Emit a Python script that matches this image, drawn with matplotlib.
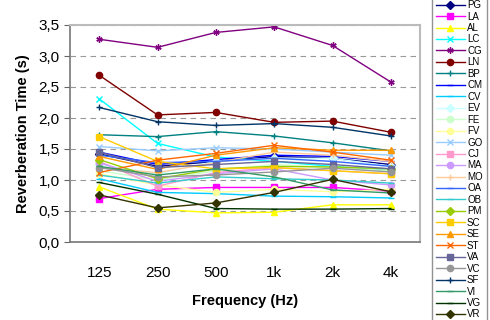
import matplotlib
matplotlib.use("Agg")
import matplotlib.pyplot as plt

plt.rcParams['font.family'] = ['Liberation Sans', 'DejaVu Sans']

freqs = ['125', '250', '500', '1k', '2k', '4k']

names = ['PG', 'LA', 'AL', 'LC', 'CG', 'LN', 'BP', 'CM', 'CV', 'EV', 'FE', 'FV', 'GO', 'CJ',
         'MA', 'MO', 'OA', 'OB', 'PM', 'SC', 'SE', 'ST', 'VA', 'VC', 'SF', 'VI', 'VG', 'VR']

PG = [1.42, 1.22, 1.30, 1.38, 1.35, 1.25]
LA = [0.70, 0.85, 0.88, 0.88, 0.88, 0.82]
AL = [0.89, 0.53, 0.47, 0.48, 0.60, 0.60]
LC = [2.31, 1.59, 1.37, 1.30, 1.22, 1.15]
CG = [3.27, 3.14, 3.38, 3.47, 3.17, 2.58]
LN = [2.69, 2.05, 2.09, 1.93, 1.95, 1.77]
BP = [1.73, 1.70, 1.78, 1.71, 1.60, 1.47]
CM = [1.45, 1.25, 1.33, 1.40, 1.38, 1.30]
CV = [1.02, 0.80, 0.78, 0.74, 0.73, 0.71]
EV = [1.25, 1.10, 1.30, 1.35, 1.35, 1.22]
FE = [1.15, 1.00, 1.15, 1.25, 1.20, 1.15]
FV = [1.10, 0.92, 0.80, 0.85, 0.81, 0.85]
GO = [1.54, 1.47, 1.52, 1.50, 1.45, 1.40]
CJ = [1.30, 0.90, 1.12, 1.20, 1.15, 1.10]
MA = [1.28, 0.98, 1.10, 1.18, 1.00, 0.92]
MO = [1.20, 1.12, 1.28, 1.45, 1.40, 1.30]
OA = [1.40, 1.28, 1.30, 1.35, 1.30, 1.22]
OB = [1.08, 0.95, 1.05, 1.02, 1.00, 0.95]
PM = [1.33, 1.02, 1.18, 1.22, 1.21, 1.18]
SC = [1.70, 1.30, 1.18, 1.20, 1.15, 1.10]
SE = [1.38, 1.17, 1.40, 1.52, 1.48, 1.48]
ST = [1.12, 1.32, 1.43, 1.56, 1.45, 1.32]
VA = [1.45, 1.20, 1.25, 1.30, 1.25, 1.18]
VC = [1.20, 1.05, 1.08, 1.13, 1.19, 1.13]
SF = [2.17, 1.94, 1.88, 1.91, 1.85, 1.71]
VI = [1.22, 1.08, 1.18, 1.05, 0.84, 0.79]
VG = [0.96, 0.77, 0.54, 0.53, 0.53, 0.54]
VR = [0.76, 0.55, 0.63, 0.80, 1.01, 0.81]

series = [PG, LA, AL, LC, CG, LN, BP, CM, CV, EV, FE, FV, GO, CJ,
          MA, MO, OA, OB, PM, SC, SE, ST, VA, VC, SF, VI, VG, VR]

colors = ['#000080', '#FF00FF', '#FFFF00', '#00FFFF', '#800080', '#800000', '#008080',
          '#0000FF', '#00CCFF', '#CCFFFF', '#CCFFCC', '#FFFF99', '#99CCFF', '#FF99CC',
          '#CC99FF', '#FFCC99', '#3366FF', '#33CCCC', '#99CC00', '#FFCC00', '#FF9900',
          '#FF6600', '#666699', '#969696', '#003366', '#339966', '#003300', '#333300']
markers = ['D', 's', '^', 'x', (6, 2, 0), 'o', '+', '_', '_', 'D', 'o', 'o', 'x', 's',
           'o', '+', '_', '_', 'D', 's', '^', 'x', 's', 'o', '+', '_', '_', 'D']

fig = plt.figure(figsize=(4.9, 3.2), dpi=100)
ax = fig.add_axes([70 / 490, 78 / 320, 350 / 490, 217 / 320])

x = range(len(freqs))
for name, vals, c, m in zip(names, series, colors, markers):
    ax.plot(x, vals, color=c, marker=m, markersize=4.5, linewidth=1.0,
            markeredgewidth=1.0, label=name)

ax.set_xlim(-0.5, 5.5)
ax.set_ylim(0, 3.5)
ax.set_xticks(list(x))
ax.set_xticklabels(freqs)
ax.set_yticks([0, 0.5, 1.0, 1.5, 2.0, 2.5, 3.0, 3.5])
ax.set_yticklabels(['0,0', '0,5', '1,0', '1,5', '2,0', '2,5', '3,0', '3,5'])
ax.tick_params(axis='x', length=0, pad=17, labelsize=11)
ax.tick_params(axis='y', length=4, direction='out', color='#666666', labelsize=11)
ax.yaxis.grid(True, linestyle=(0, (5, 4)), color='#999999', linewidth=0.8)
ax.set_axisbelow(True)
for s in ['top', 'right']:
    ax.spines[s].set_color('#BBBBBB')
    ax.spines[s].set_linewidth(1.5)
for s in ['left', 'bottom']:
    ax.spines[s].set_color('#777777')
    ax.spines[s].set_linewidth(1.2)

ax.set_xlabel('Frequency (Hz)', fontsize=10.5, fontweight='bold', labelpad=10)
ax.set_ylabel('Reverberation Time (s)', fontsize=10.5, fontweight='bold', labelpad=6)

fig.legend(loc='upper left', bbox_to_anchor=(432 / 490, 1.012), fontsize=7,
           handlelength=3.0, handletextpad=0.2, labelspacing=0.15, borderpad=0.4,
           frameon=True, fancybox=False, edgecolor='#777777', borderaxespad=0)

fig.savefig('out.png', dpi=100)
